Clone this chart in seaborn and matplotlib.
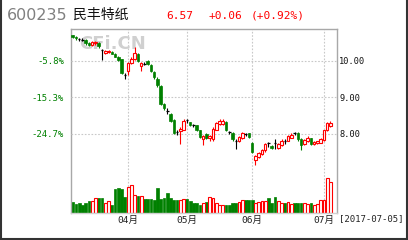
import numpy as np
import pandas as pd
import matplotlib
matplotlib.use("Agg")
import matplotlib.pyplot as plt
import seaborn as sns
from matplotlib.lines import Line2D

# ---------------- data ----------------
opens = [10.70, 10.66, 10.60, 10.58, 10.58, 10.50, 10.44, 10.48, 10.50, 10.30,
         10.22, 10.24, 10.26, 10.20, 10.12, 10.05, 9.62, 9.72, 9.95, 10.05,
         10.18, 9.85, 9.92, 10.00, 9.90, 9.70, 9.52, 9.32, 8.82, 8.62,
         8.55, 8.38, 8.05, 8.08, 8.12, 8.38, 8.32, 8.24, 8.24, 8.10,
         7.85, 8.00, 7.88, 7.85, 8.12, 8.28, 8.28, 8.32, 8.05, 8.02,
         7.80, 7.82, 7.90, 8.00, 8.02, 7.75, 7.30, 7.38, 7.45, 7.55,
         7.74, 7.68, 7.75, 7.62, 7.70, 7.80, 7.82, 7.90, 8.02, 8.04,
         7.85, 7.72, 7.80, 7.88, 7.72, 7.74, 7.76, 7.84, 8.10, 8.22]
closes = [10.66, 10.62, 10.60, 10.58, 10.48, 10.45, 10.52, 10.52, 10.40, 10.30,
          10.28, 10.28, 10.20, 10.12, 10.04, 9.68, 9.62, 9.95, 10.05, 10.22,
          10.00, 9.95, 9.92, 9.92, 9.72, 9.55, 9.35, 8.82, 8.70, 8.62,
          8.35, 8.04, 8.05, 8.15, 8.35, 8.38, 8.25, 8.24, 8.10, 7.92,
          7.95, 7.90, 7.95, 8.15, 8.30, 8.35, 8.35, 8.10, 8.05, 7.85,
          7.80, 7.92, 8.02, 8.00, 7.92, 7.50, 7.40, 7.48, 7.55, 7.72,
          7.74, 7.62, 7.75, 7.72, 7.82, 7.80, 7.95, 7.98, 8.02, 7.85,
          7.70, 7.84, 7.90, 7.72, 7.78, 7.80, 7.85, 8.10, 8.30, 8.30]
highs = [10.72, 10.68, 10.63, 10.62, 10.60, 10.52, 10.55, 10.55, 10.52, 10.34,
         10.30, 10.31, 10.28, 10.22, 10.14, 10.06, 9.66, 9.98, 10.10, 10.38,
         10.22, 9.98, 9.96, 10.02, 9.92, 9.72, 9.55, 9.34, 8.85, 8.72,
         8.58, 8.40, 8.10, 8.18, 8.42, 8.42, 8.34, 8.28, 8.26, 8.12,
         7.98, 8.02, 7.98, 8.18, 8.32, 8.42, 8.40, 8.35, 8.08, 8.05,
         7.85, 7.95, 8.05, 8.04, 8.04, 7.78, 7.42, 7.50, 7.58, 7.75,
         7.78, 7.70, 7.85, 7.75, 7.85, 7.85, 7.98, 8.02, 8.06, 8.06,
         7.88, 7.86, 7.95, 7.90, 7.80, 7.82, 7.88, 8.12, 8.32, 8.35]
lows = [10.62, 10.58, 10.55, 10.54, 10.45, 10.40, 10.42, 10.45, 10.36, 10.02,
        10.20, 10.21, 10.18, 10.10, 10.00, 9.65, 9.50, 9.62, 9.92, 10.02,
        9.97, 9.72, 9.88, 9.90, 9.70, 9.50, 9.30, 8.80, 8.65, 8.55,
        8.32, 8.00, 7.98, 7.72, 8.10, 8.30, 8.22, 8.18, 8.08, 7.88,
        7.70, 7.85, 7.80, 7.82, 8.10, 8.25, 8.25, 8.08, 8.00, 7.82,
        7.60, 7.78, 7.85, 7.95, 7.90, 7.48, 7.15, 7.35, 7.42, 7.52,
        7.65, 7.60, 7.58, 7.60, 7.68, 7.72, 7.80, 7.88, 7.98, 7.82,
        7.56, 7.70, 7.78, 7.70, 7.70, 7.72, 7.74, 7.82, 8.08, 8.20]
volumes = [110, 90, 100, 80, 100, 120, 120, 150, 150, 150,
           100, 120, 80, 240, 250, 240, 160, 260, 280, 180,
           170, 170, 140, 140, 140, 130, 250, 140, 150, 200,
           150, 130, 130, 130, 140, 140, 120, 100, 100, 80,
           100, 110, 160, 150, 100, 80, 80, 80, 80, 100,
           100, 110, 130, 130, 130, 130, 100, 110, 120, 120,
           150, 100, 160, 120, 100, 100, 110, 90, 100, 100,
           100, 100, 90, 100, 80, 90, 130, 130, 350, 310]  # 万股
month_labels = ["04月", "05月", "06月", "07月"]
month_starts = [17, 35, 55, 77]
price_ticks = [8.0, 9.0, 10.0]
price_labels = ["8.00", "9.00", "10.00"]
pct_labels = ["-24.7%", "-15.3%", "-5.8%"]

RED = "#ff0000"
GREEN = "#008000"
GRID = "#c8c8c8"
SPINE = "#a8a8a8"

sns.set_style("white")
plt.rcParams["font.family"] = ["DejaVu Sans", "Noto Sans CJK SC"]

W, H = 408, 240
fig = plt.figure(figsize=(W / 100, H / 100), dpi=100)
fig.patch.set_facecolor("white")

def fx(px):
    return px / W

def fy(py):
    return 1 - py / H

L, R, T, B = 71, 337, 29, 213
ax_vol = fig.add_axes([fx(L), fy(B), (R - L) / W, (B - T) / H])
ax_p = ax_vol.twinx()
ax_pct = ax_vol.twinx()

idx = np.arange(len(closes))
o = np.array(opens); c = np.array(closes)
hi = np.array(highs); lo = np.array(lows)
dirs = np.where(c > o, "up", np.where(c < o, "down", "flat"))

# ---------------- volume ----------------
df = pd.DataFrame({"i": idx, "vol": volumes,
                   "dir": np.where(dirs == "up", "up", "down")})
sns.barplot(data=df, x="i", y="vol", hue="dir", native_scale=True, dodge=False,
            palette={"up": RED, "down": GREEN}, width=0.85, errorbar=None,
            saturation=1, legend=False, ax=ax_vol, zorder=2)
for p in ax_vol.patches:
    fc = p.get_facecolor()
    if fc[0] > 0.9 and fc[1] < 0.1:
        p.set_facecolor("white")
        p.set_edgecolor(RED)
        p.set_linewidth(0.8)
    else:
        p.set_edgecolor(GREEN)
        p.set_linewidth(0.5)
ax_vol.set_ylim(0, 1840)
ax_vol.set_xlim(-0.5, 81)
ax_vol.set_xlabel("")
ax_vol.set_ylabel("")
ax_vol.set_yticks([])
for m in month_starts:
    ax_vol.axvline(m, color=GRID, lw=0.8, ls=(0, (1.5, 1.5)), zorder=0)
ax_vol.set_xticks(month_starts)
ax_vol.set_xticklabels(month_labels, fontsize=6.8, color="#222222",
                       family=["DejaVu Sans Mono", "Noto Sans CJK SC"])
ax_vol.tick_params(axis="x", length=0, pad=2)

# ---------------- price ----------------
plo = 10 - (B - 61) / 36.5
phi = 10 + (61 - T) / 36.5
ax_p.set_ylim(plo, phi)
ax_pct.set_ylim(plo, phi)
for t in price_ticks:
    ax_p.axhline(t, color=GRID, lw=0.8, ls=(0, (1.5, 1.5)), zorder=0)

# watermark (axes-fraction position)
ax_p.text((112 - L) / (R - L), 1 - (44 - T) / (B - T), "CFi.CN",
          transform=ax_p.transAxes, fontsize=13, fontweight="bold",
          color="#d0d0d0", ha="center", va="center", zorder=1)

cw = 0.78
for i in idx:
    d = dirs[i]
    if d == "up":
        ax_p.vlines(i, lo[i], hi[i], color=RED, lw=0.8, zorder=3)
        ax_p.bar(i, c[i] - o[i], bottom=o[i], width=cw, facecolor="white",
                 edgecolor=RED, linewidth=0.8, zorder=4)
    elif d == "down":
        ax_p.vlines(i, lo[i], hi[i], color=GREEN, lw=0.8, zorder=3)
        ax_p.bar(i, o[i] - c[i], bottom=c[i], width=cw, facecolor=GREEN,
                 edgecolor=GREEN, linewidth=0.5, zorder=4)
    else:
        ax_p.vlines(i, lo[i], hi[i], color="black", lw=0.8, zorder=3)
        ax_p.hlines(c[i], i - cw / 2, i + cw / 2, color="black", lw=0.9, zorder=4)

ax_p.set_yticks(price_ticks)
ax_p.set_yticklabels(price_labels, fontsize=6.2, color="#111111",
                     family="DejaVu Sans Mono")
ax_p.tick_params(axis="y", length=0, pad=1.5, left=False, labelleft=False)

ax_pct.yaxis.tick_left()
ax_pct.set_yticks(price_ticks)
ax_pct.set_yticklabels(pct_labels, fontsize=6.5, color=GREEN,
                       family="DejaVu Sans Mono")
ax_pct.tick_params(axis="y", length=0, pad=5, right=False, labelright=False)

for a in (ax_vol, ax_p, ax_pct):
    for s in a.spines.values():
        s.set_color(SPINE)
        s.set_linewidth(1.0)
for a in (ax_p, ax_pct):
    for s in a.spines.values():
        s.set_visible(False)
ax_vol.spines["bottom"].set_color("#d0d0d0")

# ---------------- header ----------------
fig.text(fx(7), fy(15), "600235", fontsize=11.5, color="#808080",
         ha="left", va="center", family="DejaVu Sans")
fig.text(fx(73), fy(15), "民丰特纸", fontsize=10, color="#111111",
         ha="left", va="center", family=["Noto Sans CJK SC", "DejaVu Sans"])
fig.text(fx(166), fy(16), "6.57", fontsize=8, color=RED,
         ha="left", va="center", family="DejaVu Sans Mono")
fig.text(fx(209), fy(16), "+0.06", fontsize=8, color=RED,
         ha="left", va="center", family="DejaVu Sans Mono")
fig.text(fx(251), fy(16), "(+0.92%)", fontsize=8, color=RED,
         ha="left", va="center", family="DejaVu Sans Mono")
fig.text(fx(339), fy(219), "[2017-07-05]", fontsize=6.5, color="#222222",
         ha="left", va="center", family="DejaVu Sans Mono")

# outer frame
for xs, ys in (([0.5, 0.5], [0, H]), ([W - 1.5, W - 1.5], [0, H]),
               ([0, W], [H - 1.5, H - 1.5])):
    fig.add_artist(Line2D([fx(x) for x in xs], [fy(y) for y in ys],
                          color="#333333", lw=1.5, transform=fig.transFigure))

fig.savefig("out.png", dpi=100)
